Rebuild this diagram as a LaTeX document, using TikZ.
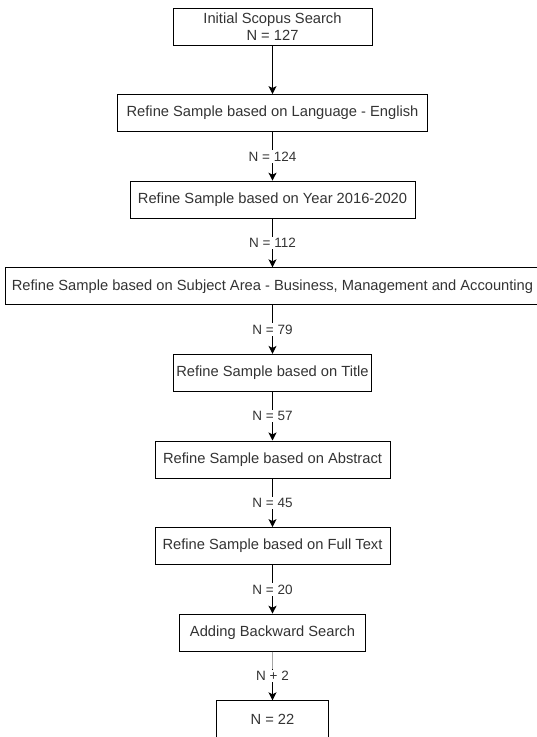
\documentclass[tikz,border=0pt]{standalone}
\usepackage{fontspec}
\setmainfont{Liberation Sans}
\usetikzlibrary{positioning,arrows.meta}

\begin{document}
\begin{tikzpicture}[x=1pt,y=1pt,node distance=48.6pt]
        \tikzstyle{every node}=[font=\fontsize{14.7}{17}\selectfont, text=black!80]
        \tikzstyle{stepbox}=[draw, line width=1pt, minimum height=37pt, inner sep=2pt, align=center]
        \tikzstyle{count}=[fill=white, inner sep=1.5pt, font=\fontsize{13.5}{16}\selectfont]
        \tikzstyle{flow}=[line width=1pt, -{Stealth[length=8pt,width=8pt,inset=2pt]}]
        \useasboundingbox (0,0) rectangle (537,-737);
        % steps of the search
        \node[stepbox, minimum width=199pt] (init) at (272.5,-26.5) {Initial Scopus Search\\N = 127};
        \node[stepbox, minimum width=310pt, below=of init] (lang) {Refine Sample based on Language - English};
        \node[stepbox, minimum width=285pt, below=of lang] (year) {Refine Sample based on Year 2016-2020};
        \node[stepbox, minimum width=534pt, below=of year] (subj) {Refine Sample based on Subject Area - Business, Management and Accounting};
        \node[stepbox, minimum width=198pt, below=of subj] (title) {Refine Sample based on Title};
        \node[stepbox, minimum width=235pt, below=of title] (abstract) {Refine Sample based on Abstract};
        \node[stepbox, minimum width=235pt, below=of abstract] (fulltext) {Refine Sample based on Full Text};
        \node[stepbox, minimum width=186pt, below=of fulltext] (backward) {Adding Backward Search};
        \node[stepbox, minimum width=112pt, below=of backward] (final) {N = 22};
        % connectors with counts
        \draw[flow] (init) -- (lang);
        \draw[flow] (lang) -- node[count] {N = 124} (year);
        \draw[flow] (year) -- node[count] {N = 112} (subj);
        \draw[flow] (subj) -- node[count] {N = 79} (title);
        \draw[flow] (title) -- node[count] {N = 57} (abstract);
        \draw[flow] (abstract) -- node[count] {N = 45} (fulltext);
        \draw[flow] (fulltext) -- node[count] {N = 20} (backward);
        \draw[flow] (backward) -- node[count] (plus) {N + 2} (final);
        \draw[line width=1pt, gray!70] (backward) -- (plus);
\end{tikzpicture}
\end{document}
